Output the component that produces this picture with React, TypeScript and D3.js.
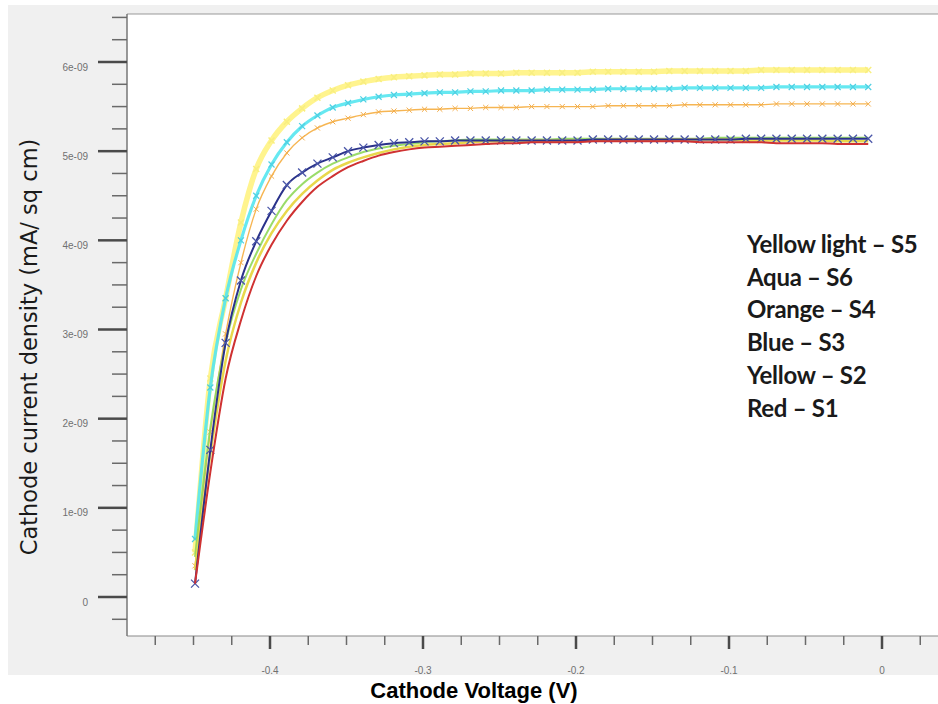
import React from 'react';
import * as d3 from 'd3';

// Cathode voltage sample points (V)
const voltages = [
  -0.449, -0.439, -0.429, -0.419, -0.409, -0.399, -0.389, -0.379, -0.369, -0.359,
  -0.349, -0.339, -0.329, -0.319, -0.309, -0.299, -0.289, -0.279, -0.269, -0.259,
  -0.249, -0.239, -0.229, -0.219, -0.209, -0.199, -0.189, -0.179, -0.169, -0.159,
  -0.149, -0.139, -0.129, -0.119, -0.109, -0.099, -0.089, -0.079, -0.069, -0.059,
  -0.049, -0.039, -0.029, -0.019, -0.009,
];

// Current density values (units of 1e-09 mA / sq cm)
const yellowLightS5 = [
  0.5, 2.45, 3.35, 4.2, 4.8, 5.12, 5.33, 5.48, 5.6, 5.68,
  5.74, 5.78, 5.81, 5.83, 5.84, 5.85, 5.86, 5.86, 5.87, 5.87,
  5.87, 5.88, 5.88, 5.88, 5.88, 5.88, 5.89, 5.89, 5.89, 5.89,
  5.89, 5.9, 5.9, 5.9, 5.9, 5.9, 5.9, 5.91, 5.91, 5.91,
  5.91, 5.91, 5.91, 5.91, 5.91,
];
const aquaS6 = [
  0.65, 2.35, 3.35, 4.0, 4.5, 4.85, 5.1, 5.28, 5.4, 5.49,
  5.54, 5.58, 5.61, 5.63, 5.64, 5.65, 5.66, 5.66, 5.67, 5.67,
  5.68, 5.68, 5.68, 5.69, 5.69, 5.69, 5.69, 5.7, 5.7, 5.7,
  5.7, 5.7, 5.71, 5.71, 5.71, 5.71, 5.71, 5.71, 5.72, 5.72,
  5.72, 5.72, 5.72, 5.72, 5.72,
];
const orangeS4 = [
  0.35, 1.85, 2.95, 3.75, 4.35, 4.72, 4.98, 5.15, 5.26, 5.33,
  5.37, 5.41, 5.44, 5.45, 5.46, 5.47, 5.47, 5.48, 5.48, 5.49,
  5.49, 5.49, 5.5, 5.5, 5.5, 5.5, 5.5, 5.51, 5.51, 5.51,
  5.51, 5.51, 5.52, 5.52, 5.52, 5.52, 5.52, 5.52, 5.53, 5.53,
  5.53, 5.53, 5.53, 5.53, 5.53,
];
const blueS3 = [
  0.15, 1.65, 2.85, 3.55, 3.99, 4.33, 4.62, 4.76, 4.86, 4.93,
  5.0, 5.04, 5.07, 5.09, 5.1, 5.11, 5.11, 5.12, 5.12, 5.12,
  5.12, 5.12, 5.12, 5.12, 5.12, 5.12, 5.13, 5.13, 5.13, 5.13,
  5.13, 5.13, 5.13, 5.13, 5.13, 5.13, 5.14, 5.14, 5.14, 5.14,
  5.14, 5.14, 5.14, 5.14, 5.14,
];
const greenTrace = [
  0.45, 1.9, 2.85, 3.45, 3.85, 4.18, 4.45, 4.63, 4.76, 4.86,
  4.93, 4.99, 5.03, 5.06, 5.08, 5.1, 5.11, 5.12, 5.13, 5.13,
  5.13, 5.13, 5.13, 5.13, 5.14, 5.14, 5.14, 5.14, 5.14, 5.14,
  5.14, 5.14, 5.14, 5.14, 5.15, 5.15, 5.15, 5.15, 5.15, 5.15,
  5.15, 5.15, 5.15, 5.15, 5.15,
];
const yellowS2 = [
  0.3, 1.6, 2.65, 3.3, 3.75, 4.08, 4.33, 4.52, 4.67, 4.79,
  4.87, 4.93, 4.98, 5.02, 5.05, 5.07, 5.08, 5.09, 5.1, 5.11,
  5.11, 5.12, 5.12, 5.12, 5.12, 5.12, 5.12, 5.13, 5.13, 5.13,
  5.13, 5.13, 5.13, 5.13, 5.13, 5.13, 5.12, 5.12, 5.12, 5.12,
  5.12, 5.12, 5.11, 5.11, 5.11,
];
const redS1 = [
  0.15, 1.4, 2.45, 3.1, 3.6, 3.95, 4.22, 4.43, 4.6, 4.72,
  4.82, 4.89, 4.95, 4.99, 5.02, 5.04, 5.05, 5.06, 5.07, 5.08,
  5.09, 5.09, 5.1, 5.1, 5.1, 5.1, 5.11, 5.11, 5.11, 5.11,
  5.11, 5.11, 5.11, 5.1, 5.1, 5.1, 5.1, 5.1, 5.09, 5.09,
  5.09, 5.09, 5.08, 5.08, 5.08,
];

const yMajorTicks = [0, 1, 2, 3, 4, 5, 6];
const yTickLabels = ['0', '1e-09', '2e-09', '3e-09', '4e-09', '5e-09', '6e-09'];
const xMajorTicks = [-0.4, -0.3, -0.2, -0.1, 0];
const xTickLabels = ['-0.4', '-0.3', '-0.2', '-0.1', '0'];

const legendLabels = [
  'Yellow light \u2013 S5',
  'Aqua \u2013 S6',
  'Orange \u2013 S4',
  'Blue \u2013 S3',
  'Yellow \u2013 S2',
  'Red \u2013 S1',
];

type Series = {
  name: string;
  values: number[];
  color: string;
  width: number;
  opacity: number;
  marker: string | null;
  markerSize: number;
  markerWidth: number;
};

const series: Series[] = [
  { name: 'S5', values: yellowLightS5, color: '#fff27a', width: 5.5, opacity: 0.85, marker: '#f7ec6a', markerSize: 3, markerWidth: 1.5 },
  { name: 'S6', values: aquaS6, color: '#55e6f0', width: 3.2, opacity: 0.9, marker: '#3ccbe0', markerSize: 3, markerWidth: 1.2 },
  { name: 'S4', values: orangeS4, color: '#f6b24a', width: 1.4, opacity: 0.95, marker: '#f2a840', markerSize: 2.6, markerWidth: 1 },
  { name: 'G', values: greenTrace, color: '#8fd85a', width: 2, opacity: 0.9, marker: null, markerSize: 0, markerWidth: 0 },
  { name: 'S2', values: yellowS2, color: '#e8d84c', width: 2.5, opacity: 1, marker: null, markerSize: 0, markerWidth: 0 },
  { name: 'S3', values: blueS3, color: '#29318a', width: 2, opacity: 1, marker: '#4a56a8', markerSize: 4, markerWidth: 1.3 },
  { name: 'S1', values: redS1, color: '#cf3030', width: 2, opacity: 1, marker: null, markerSize: 0, markerWidth: 0 },
];

export default function App() {
  const W = 938;
  const H = 704;
  const plotL = 127;
  const plotT = 14;
  const plotR = 938;
  const plotB = 636;

  const x = d3.scaleLinear().domain([-0.4, 0]).range([270, 882]);
  const y = d3.scaleLinear().domain([0, 6]).range([597, 62]);

  const line = d3
    .line<number>()
    .x((_, i) => x(voltages[i]))
    .y((d) => y(d))
    .curve(d3.curveMonotoneX);

  const yMinor = d3.range(-0.25, 6.51, 0.25).filter((v) => Math.abs(v - Math.round(v)) > 1e-6);
  const xMinor = d3.range(-0.475, 0.03, 0.025).filter((v) => Math.abs(v * 10 - Math.round(v * 10)) > 1e-6);

  return (
    <svg
      width={W}
      height={H}
      style={{ position: 'absolute', left: 0, top: 0, background: '#fff' }}
    >
      <defs>
        <clipPath id="plotClip">
          <rect x={plotL} y={plotT} width={plotR - plotL} height={plotB - plotT} />
        </clipPath>
        <filter id="soft" x="-5%" y="-5%" width="110%" height="110%">
          <feGaussianBlur stdDeviation="0.45" />
        </filter>
      </defs>
      <rect x={8} y={5} width={W - 8} height={675 - 5} fill="#f0f0f0" />
      <rect x={plotL} y={plotT} width={plotR - plotL} height={plotB - plotT} fill="#ffffff" />

      {/* frame */}
      <line x1={plotL} x2={plotR} y1={plotT} y2={plotT} stroke="#999" strokeWidth={1} />
      <line x1={plotL} x2={plotR} y1={plotB} y2={plotB} stroke="#8a8a8a" strokeWidth={1.2} />
      <line x1={plotL} x2={plotL} y1={plotT} y2={plotB} stroke="#777" strokeWidth={1.5} />

      {/* y ticks */}
      {yMinor.map((v) => (
        <line key={'ym' + v} x1={112} x2={plotL} y1={y(v)} y2={y(v)} stroke="#6a6a6a" strokeWidth={1.5} />
      ))}
      {yMajorTicks.map((v, i) => (
        <g key={'yM' + v}>
          <line x1={98} x2={plotL} y1={y(v)} y2={y(v)} stroke="#4a4a4a" strokeWidth={2.5} />
          <text
            x={88}
            y={y(v) + 8.5}
            textAnchor="end"
            fontFamily="Liberation Sans, Arial, sans-serif"
            fontSize={10}
            fill="#707070"
          >
            {yTickLabels[i]}
          </text>
        </g>
      ))}

      {/* x ticks */}
      {xMinor.map((v) => (
        <line key={'xm' + v} x1={x(v)} x2={x(v)} y1={plotB} y2={645} stroke="#6a6a6a" strokeWidth={1.5} />
      ))}
      {xMajorTicks.map((v, i) => (
        <g key={'xM' + v}>
          <line x1={x(v)} x2={x(v)} y1={plotB} y2={649} stroke="#4a4a4a" strokeWidth={2.5} />
          <text
            x={x(v)}
            y={674}
            textAnchor="middle"
            fontFamily="Liberation Sans, Arial, sans-serif"
            fontSize={10}
            fill="#707070"
          >
            {xTickLabels[i]}
          </text>
        </g>
      ))}

      {/* series */}
      <g clipPath="url(#plotClip)">
        <g filter="url(#soft)">
          {series.map((s) => (
            <g key={s.name} opacity={s.opacity}>
              <path d={line(s.values) || ''} fill="none" stroke={s.color} strokeWidth={s.width} strokeLinejoin="round" />
              {s.marker &&
                s.values.map((v, i) => {
                  const cx = x(voltages[i]);
                  const cy = y(v);
                  const r = s.markerSize;
                  return (
                    <path
                      key={i}
                      d={`M${cx - r},${cy - r}L${cx + r},${cy + r}M${cx - r},${cy + r}L${cx + r},${cy - r}`}
                      stroke={s.marker as string}
                      strokeWidth={s.markerWidth}
                      fill="none"
                    />
                  );
                })}
            </g>
          ))}
        </g>
      </g>

      {/* legend text */}
      {legendLabels.map((t, i) => (
        <text
          key={t}
          x={747}
          y={253 + i * 32.7}
          fontFamily="Lato, 'Open Sans', sans-serif"
          fontWeight={700}
          fontSize={24}
          letterSpacing={-0.3}
          fill="#1a1a1a"
        >
          {t}
        </text>
      ))}

      {/* axis titles */}
      <text
        x={474}
        y={698}
        textAnchor="middle"
        fontFamily="Liberation Sans, Arial, sans-serif"
        fontWeight={700}
        fontSize={22}
        fill="#000"
      >
        Cathode Voltage (V)
      </text>
      <text
        transform={`translate(37,347) rotate(-90)`}
        textAnchor="middle"
        fontFamily="DejaVu Sans, Verdana, sans-serif"
        fontSize={22.5}
        fill="#1a1a1a"
      >
        Cathode current density (mA/ sq cm)
      </text>
    </svg>
  );
}
